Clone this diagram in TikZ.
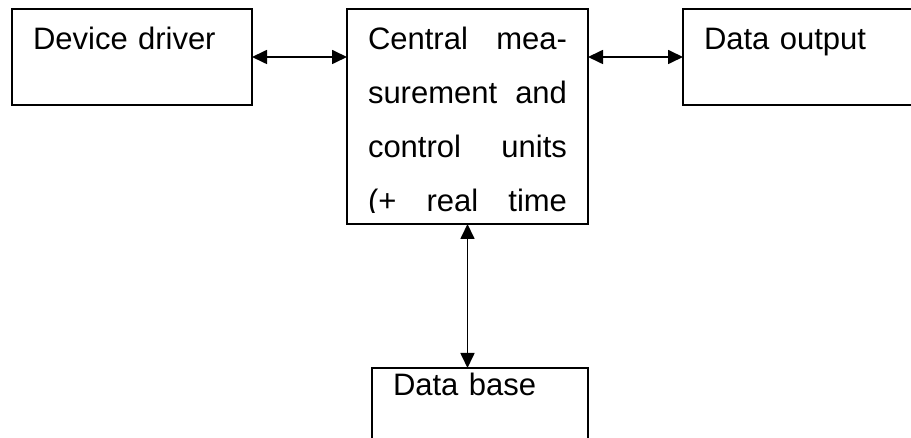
\documentclass[tikz,border=0pt]{standalone}
\usepackage{fontspec}
\setmainfont{Liberation Sans}
\usetikzlibrary{arrows.meta,positioning}

\begin{document}
\begin{tikzpicture}[
  x=1pt, y=1pt,
  >={Triangle[length=7.5pt, width=7pt]},
  every node/.style={font=\fontsize{15.5}{27}\selectfont},
  box/.style={draw, line width=1.4pt, outer sep=0pt, inner xsep=10.5pt, inner ysep=0pt,
              align=left, text height=20.5pt},
  link/.style={<->, line width=0.85pt}
]
  \useasboundingbox (0,0) rectangle (455.5,-219);
  \clip (0,0) rectangle (455.5,-219);

  %--- boxes
  \node[box, text width=99pt, text depth=27.5pt, anchor=north west]
       at (6,-4.5) (driver) {Device driver};
  \node[box, text width=99.5pt, text depth=87pt,
        right=47.5pt of driver.north east, anchor=north west] (central) {};
  \node[box, text width=99pt, text depth=27.5pt,
        right=47.5pt of central.north east, anchor=north west] (output) {Data output};
  \node[box, text width=87pt, text height=14pt, text depth=34pt,
        below=72pt of central.south west, anchor=north west, xshift=12.5pt] (base) {Data base};

  % text of the central unit, cut at the last baseline
  \begin{scope}
    \clip (central.north west) rectangle ([yshift=5.5pt]central.south east);
    \node[box, draw=none, text width=99.5pt, text depth=87pt, align=justify]
         at (central) (centraltext)
         {Central\hfill mea-\\surement\hfill and\\control\hfill units\\(+\hfill real\hfill time};
  \end{scope}

  %--- links
  \draw[link] (driver.east) -- (driver.east -| central.west);
  \draw[link] (central.east |- output.west) -- (output.west);
  \draw[link] (central.south) -- (central.south |- base.north);
\end{tikzpicture}
\end{document}
